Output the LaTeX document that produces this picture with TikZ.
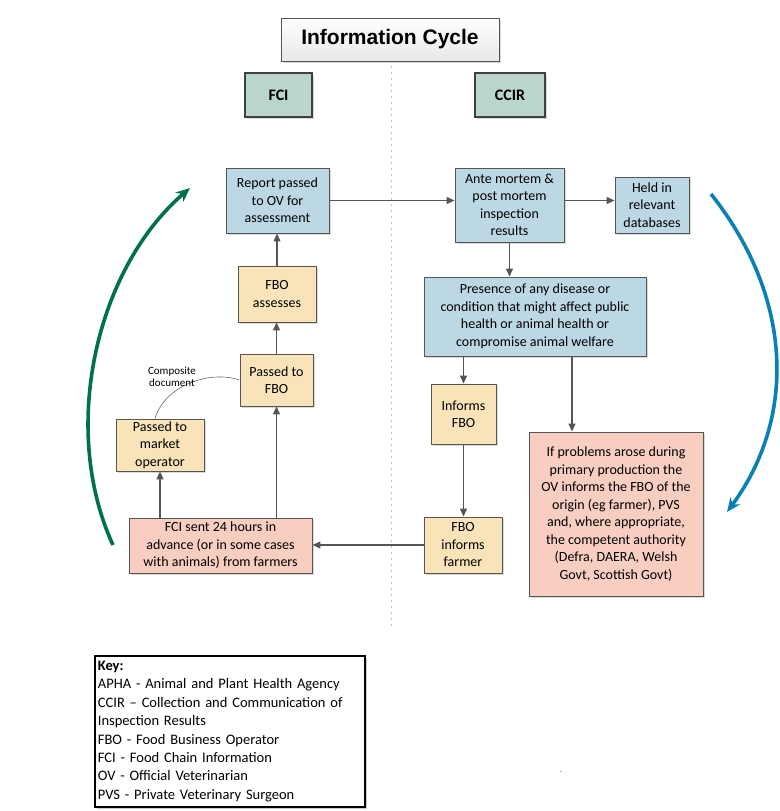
\documentclass[tikz,border=0pt]{standalone}
\usepackage{fontspec}
\setmainfont{Carlito}
\newfontfamily\titlefont{Liberation Sans}
\usetikzlibrary{arrows.meta,positioning,calc,shadows}

\definecolor{linegray}{HTML}{555555}
\definecolor{boxblue}{HTML}{BDD8E5}
\definecolor{boxsand}{HTML}{F9E4BA}
\definecolor{boxsalmon}{HTML}{F7CEC0}
\definecolor{boxsage}{HTML}{BAD5CE}
\definecolor{cyclegreen}{HTML}{00704E}
\definecolor{cycleblue}{HTML}{0A80B4}

\begin{document}
\begin{tikzpicture}[
  x=1pt, y=-1pt,
  box/.style={rectangle, draw=linegray, line width=0.9pt, align=center, inner sep=2pt,
    font=\fontsize{14}{17.5}\selectfont,
    drop shadow={shadow xshift=2pt, shadow yshift=-2pt, fill=black, opacity=0.15}},
  bluebox/.style={box, fill=boxblue},
  sandbox/.style={box, fill=boxsand},
  salmonbox/.style={box, fill=boxsalmon},
  header/.style={box, fill=boxsage, draw=black!75, line width=2pt, font=\fontsize{16}{19}\selectfont\bfseries},
  flow/.style={->, draw=linegray, line width=1.3pt},
  cycle/.style={-{Stealth[length=14pt,width=12pt]}, line width=3.6pt},
  >={Triangle[length=8pt,width=7pt]}
]
\useasboundingbox (0,0) rectangle (779,811);

% Title and column headers
\node[box, top color=white, bottom color=black!9, minimum width=218, minimum height=43,
  font=\titlefont\fontsize{21}{24}\selectfont\bfseries] (title) at (390,39.5) {Information Cycle};
\node[header, minimum width=67, minimum height=44] (fci) at (278.5,95) {FCI};
\node[header, minimum width=70, minimum height=44] (ccir) at (510,95) {CCIR};

% Dividing line
\coordinate (divtop) at (391,66);
\coordinate (divbot) at (391,630);
\draw[black!25, dash pattern=on 2pt off 4pt, line width=1pt] (divtop) -- (divbot);

% CCIR side
\node[bluebox, minimum width=103, minimum height=65] (report) at (277.5,200.5) {Report passed\\to OV for\\assessment};
\node[bluebox, minimum width=109, minimum height=74] (ante) at (509.5,205) {Ante mortem \&\\post mortem\\inspection\\results};
\node[bluebox, minimum width=74, minimum height=56] (held) at (652,205) {Held in\\relevant\\databases};
\node[bluebox, minimum width=222, minimum height=79] (presence) at (535,316.5)
  {Presence of any disease or\\condition that might affect public\\health or animal health or\\compromise animal welfare};
\node[sandbox, minimum width=65, minimum height=60] (informs) at (463.5,414) {Informs\\FBO};
\node[sandbox, minimum width=78, minimum height=56] (farmer) at (463,545) {FBO\\informs\\farmer};
\node[salmonbox, minimum width=174, minimum height=164] (problems) at (616,514)
  {If problems arose during\\primary production the\\OV informs the FBO of the\\origin (eg farmer), PVS\\and, where appropriate,\\the competent authority\\(Defra, DAERA, Welsh\\Govt, Scottish Govt)};

% FCI side
\node[sandbox, minimum width=78, minimum height=56] (assess) at (277,294) {FBO\\assesses};
\node[sandbox, minimum width=73, minimum height=52] (passfbo) at (276.5,380) {Passed to\\FBO};
\node[sandbox, minimum width=88, minimum height=52] (market) at (160,445) {Passed to\\market\\operator};
\node[salmonbox, minimum width=183, minimum height=55] (fcisent) at (220.5,545.5)
  {FCI sent 24 hours in\\advance (or in some cases\\with animals) from farmers};

% Flow arrows
\draw[flow] (report.east) -- (report.east -| ante.west);
\draw[flow] (report.east -| ante.east) -- (report.east -| held.west);
\draw[flow] (ante.south) -- (ante.south |- presence.north);
\draw[flow] (presence.south -| informs.north) -- (informs.north);
\draw[flow] ([xshift=37pt]presence.south) -- ([xshift=37pt]presence.south |- problems.north);
\draw[flow] (informs.south) -- (informs.south |- farmer.north);
\draw[flow] (farmer.west) -- (farmer.west -| fcisent.east);
\draw[flow] (fcisent.north -| market.south) -- (market.south);
\draw[flow] (fcisent.north -| passfbo.south) -- (passfbo.south);
\draw[flow] (passfbo.north) -- (passfbo.north |- assess.south);
\draw[flow] (assess.north) -- (assess.north |- report.south);

% Composite document link
\draw[black!60, line width=0.6pt] ([xshift=-5pt]market.north) .. controls (165,385) and (210,370) .. (passfbo.west);
\node[font=\fontsize{11}{12.5}\selectfont, align=center, inner sep=0pt] (composite) at (172,377) {Composite\\document};

% Cycle arrows
\coordinate (gstart) at (113,545);
\coordinate (gend) at (190,188);
\draw[cycle, cyclegreen] (gstart) .. controls (60,430) and (95,270) .. (gend);
\coordinate (bstart) at (711,194);
\coordinate (bend) at (727,512);
\draw[cycle, cycleblue] (bstart) .. controls (795,300) and (795,420) .. (bend);

% Key
\node[draw=black, line width=1.8pt, fill=white, anchor=north west, align=left,
  minimum width=270, minimum height=151, text width=264, inner sep=2.5pt,
  font=\fontsize{14.5}{18.4}\selectfont,
  drop shadow={shadow xshift=2pt, shadow yshift=-2pt, fill=black, opacity=0.2}] (key) at (94,655)
  {\textbf{Key:}\\
   APHA - Animal and Plant Health Agency\\
   CCIR -- Collection and Communication of\\
   Inspection Results\\
   FBO - Food Business Operator\\
   FCI - Food Chain Information\\
   OV - Official Veterinarian\\
   PVS - Private Veterinary Surgeon};

\node[text=black!50, font=\small, inner sep=0pt] (dash) at (561,773) {-};
\end{tikzpicture}
\end{document}
